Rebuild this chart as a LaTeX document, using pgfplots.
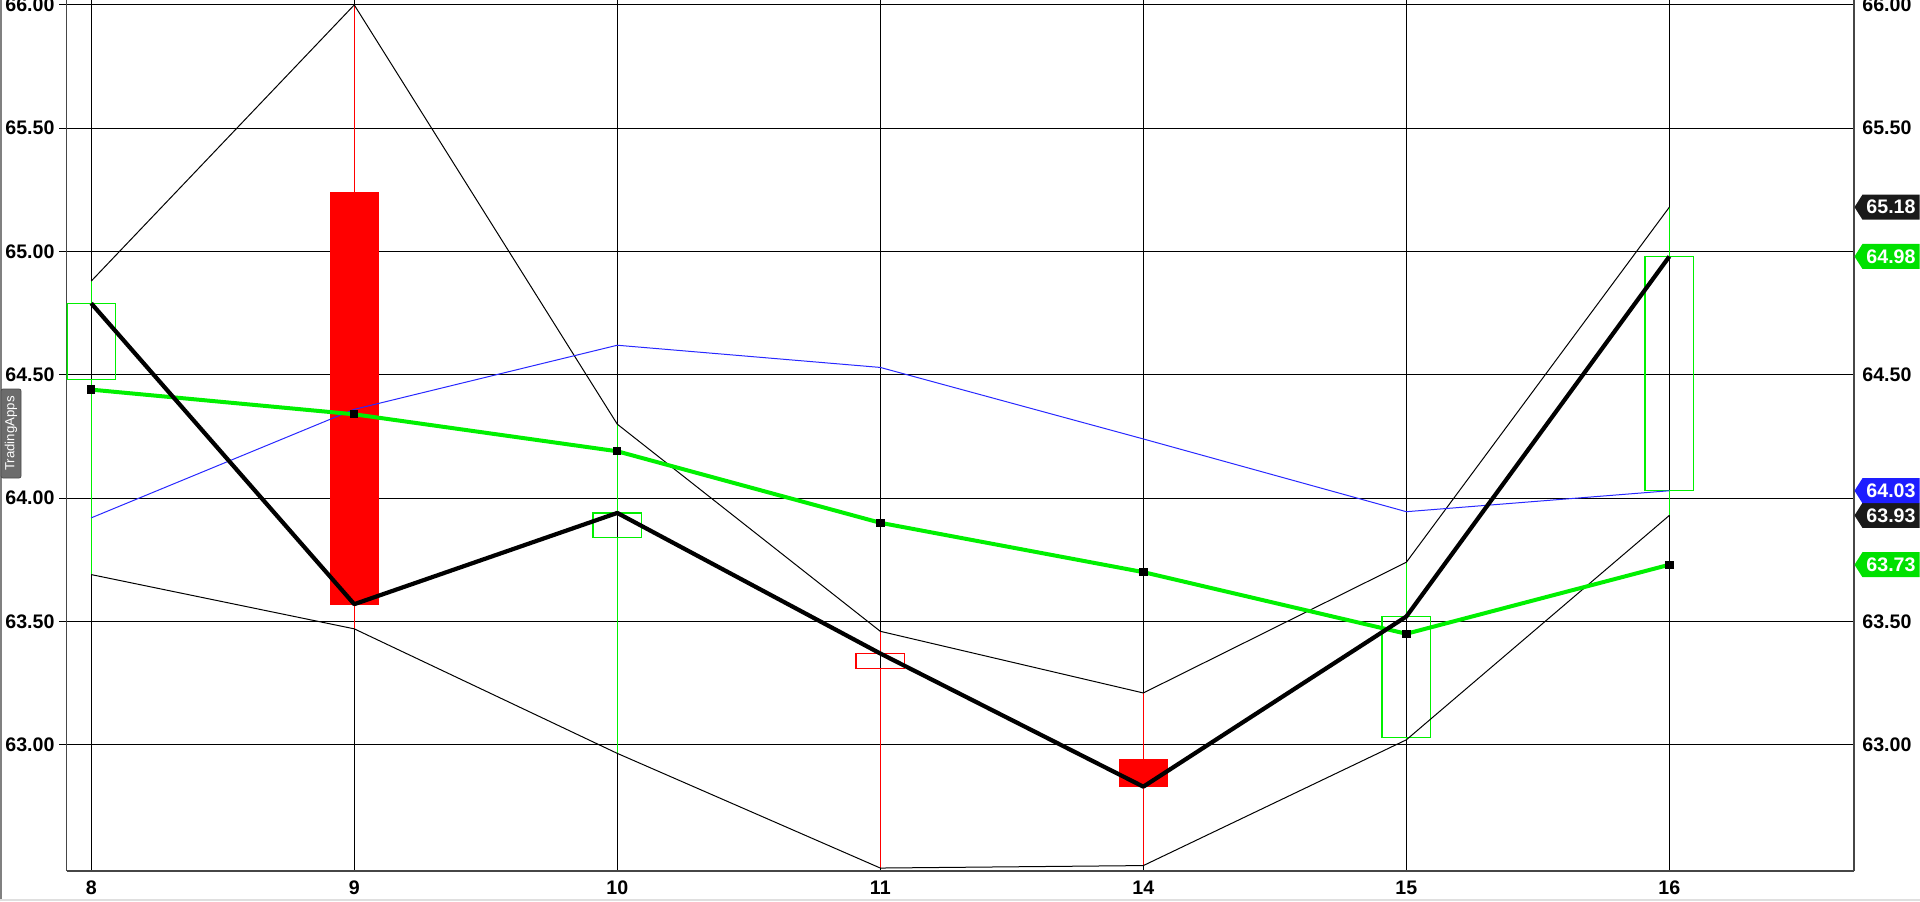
\documentclass[border=0pt]{standalone}
\usepackage{pgfplots}
\pgfplotsset{compat=1.18}
\usepackage{pgfplotstable}
\usepackage{fontspec}
\setmainfont{Liberation Sans}
\usetikzlibrary{shapes.symbols}

\definecolor{upgreen}{RGB}{0,240,0}
\definecolor{taggreen}{RGB}{0,225,0}
\definecolor{dnred}{RGB}{255,0,0}
\definecolor{bluel}{RGB}{40,40,255}
\definecolor{tagblue}{RGB}{30,30,255}
\definecolor{tagblack}{RGB}{26,26,26}
\definecolor{framegray}{RGB}{70,70,70}
\definecolor{tabgray}{RGB}{108,108,108}
\newcommand\lbl{\fontsize{9.8}{10}\selectfont\bfseries}

% x: 0..6 = sessions 8,9,10,11,14,15,16
\pgfplotstableread{
x high  low    open  close ma    blue
0 64.88 63.69  64.48 64.79 64.44 63.92
1 66.00 63.47  65.24 63.57 64.34 64.36
2 64.30 62.965 63.84 63.94 64.19 64.62
3 63.46 62.50  63.31 63.37 63.90 64.53
4 63.21 62.51  62.94 62.83 63.70 64.24
5 63.74 63.02  63.03 63.52 63.45 63.945
6 65.18 63.93  64.03 64.98 63.73 64.03
}\ohlc

\begin{document}
\begin{tikzpicture}
\path[use as bounding box] (0,0) rectangle (960pt,450.5pt);
\draw[gray, line width=1pt] (0.5pt,0) -- (0.5pt,450.5pt);
\fill[gray!25] (0,0) rectangle (960pt,1pt);

\begin{axis}[
  at={(33.25pt,15pt)}, anchor=south west,
  scale only axis, width=893.75pt, height=435.5pt,
  xmin=-0.094, xmax=6.702, ymin=62.488, ymax=66.02,
  axis x line*=bottom, axis y line*=left,
  axis line style={-, draw=framegray, line width=0.8pt},
  xtick={0,1,2,3,4,5,6}, xticklabels={8,9,10,11,14,15,16},
  ytick={63,63.5,64,64.5,65,65.5,66},
  grid=major, major grid style={black, line width=0.5pt},
  tick align=outside, major tick length=3.5pt,
  xtick style={draw=none},
  ytick style={black, line width=0.5pt},
  xticklabel style={font=\lbl, anchor=north, inner sep=0pt, yshift=-1.3pt},
  yticklabel style={font=\lbl, anchor=east, inner sep=0pt, xshift=-2.3pt,
    /pgf/number format/.cd, fixed, fixed zerofill, precision=2, assume math mode=true},
  unbounded coords=jump,
]
% wicks (high to body, body to low)
\addplot[upgreen, line width=0.5pt] coordinates {
  (0,64.88) (0,64.79) (0,nan) (0,64.48) (0,63.69) (0,nan)
  (2,64.30) (2,63.94) (2,nan) (2,63.84) (2,62.965) (2,nan)
  (5,63.74) (5,63.52) (5,nan) (5,63.03) (5,63.02) (5,nan)
  (6,65.18) (6,64.98) (6,nan) (6,64.03) (6,63.93)};
\addplot[dnred, line width=0.5pt] coordinates {
  (1,66.00) (1,65.24) (1,nan) (1,63.57) (1,63.47) (1,nan)
  (3,63.46) (3,63.37) (3,nan) (3,63.31) (3,62.50) (3,nan)
  (4,63.21) (4,62.94) (4,nan) (4,62.83) (4,62.51)};
% bodies (open / close)
\addplot[upgreen, line width=0.65pt] coordinates {(-0.0925,64.48) (0.0925,64.48) (0.0925,64.79) (-0.0925,64.79)} -- cycle;
\addplot[upgreen, line width=0.65pt] coordinates {(1.9075,63.84) (2.0925,63.84) (2.0925,63.94) (1.9075,63.94)} -- cycle;
\addplot[upgreen, line width=0.65pt] coordinates {(4.9075,63.03) (5.0925,63.03) (5.0925,63.52) (4.9075,63.52)} -- cycle;
\addplot[upgreen, line width=0.65pt] coordinates {(5.9075,64.03) (6.0925,64.03) (6.0925,64.98) (5.9075,64.98)} -- cycle;
\addplot[dnred, line width=0.65pt] coordinates {(2.9075,63.31) (3.0925,63.31) (3.0925,63.37) (2.9075,63.37)} -- cycle;
\addplot[draw=dnred, fill=dnred] coordinates {(0.9075,65.24) (1.0925,65.24) (1.0925,63.57) (0.9075,63.57)} -- cycle;
\addplot[draw=dnred, fill=dnred] coordinates {(3.9075,62.94) (4.0925,62.94) (4.0925,62.83) (3.9075,62.83)} -- cycle;
% high / low envelopes
\addplot[black, line width=0.5pt] table[x=x, y=high] {\ohlc};
\addplot[black, line width=0.5pt] table[x=x, y=low] {\ohlc};
\addplot[bluel, line width=0.5pt] table[x=x, y=blue] {\ohlc};
\addplot[upgreen, line width=2pt, mark=square*, mark size=1.1pt,
  mark options={black, fill=black}] table[x=x, y=ma] {\ohlc};
\addplot[black, line width=2.1pt, line join=round] table[x=x, y=close] {\ohlc};

\coordinate (t1) at ({rel axis cs:1,0} |- {axis cs:0,65.18});
\coordinate (t2) at ({rel axis cs:1,0} |- {axis cs:0,64.98});
\coordinate (t3) at ({rel axis cs:1,0} |- {axis cs:0,64.03});
\coordinate (t4) at ({rel axis cs:1,0} |- {axis cs:0,63.93});
\coordinate (t5) at ({rel axis cs:1,0} |- {axis cs:0,63.73});
\end{axis}

\begin{axis}[
  at={(33.25pt,15pt)}, anchor=south west,
  scale only axis, width=893.75pt, height=435.5pt,
  xmin=-0.094, xmax=6.702, ymin=62.488, ymax=66.02,
  axis x line=none, axis y line*=right,
  axis line style={-, draw=framegray, line width=0.8pt},
  ytick={63,63.5,64.5,65.5,66},
  ytick style={draw=none},
  yticklabel style={font=\lbl, anchor=west, inner sep=0pt, xshift=4pt,
    /pgf/number format/.cd, fixed, fixed zerofill, precision=2, assume math mode=true},
]
\end{axis}

\tikzset{tag/.style={signal, signal to=west, signal pointer angle=115, anchor=west,
  text=white, font=\lbl, inner xsep=2pt, inner ysep=0pt, minimum height=12.5pt}}
\node[tag, fill=tagblack] at (t1) {65.18};
\node[tag, fill=taggreen] at (t2) {64.98};
\node[tag, fill=tagblack] at (t4) {63.93};
\node[tag, fill=tagblue] at (t3) {64.03};
\node[tag, fill=taggreen] at (t5) {63.73};

\node[rotate=90, fill=tabgray, draw=gray!60!black, text=white, rounded corners=1pt,
  font=\fontsize{6.6}{7}\selectfont, minimum width=44.5pt, minimum height=10pt,
  inner sep=0.5pt] at (5.5pt,233.75pt) {TradingApps};
\end{tikzpicture}
\end{document}
